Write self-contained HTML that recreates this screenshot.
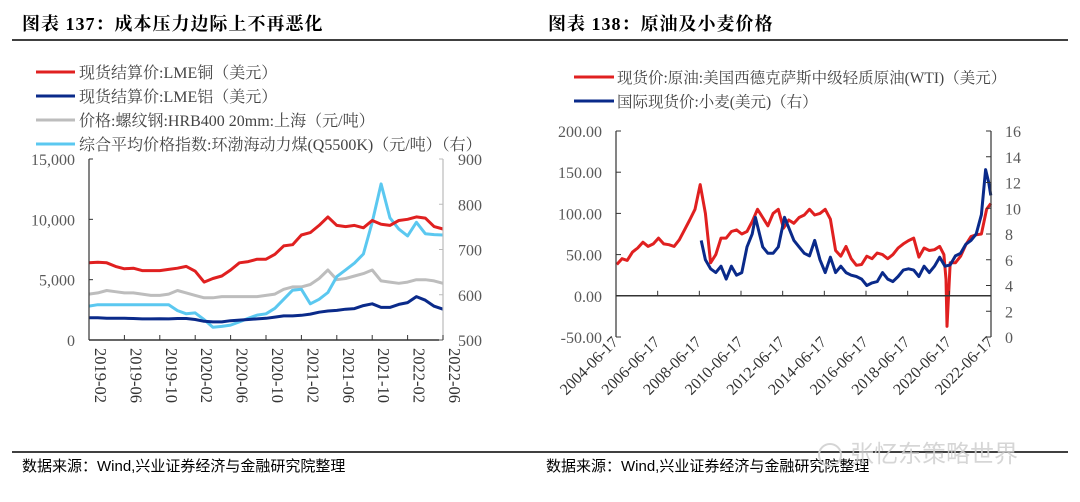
<!DOCTYPE html>
<html><head><meta charset="utf-8">
<style>
html,body{margin:0;padding:0;background:#fff;}
svg{display:block;font-family:"Liberation Serif","Noto Serif CJK SC","Noto Sans CJK SC",serif;}
</style></head>
<body>
<svg id="s" width="1080" height="502" viewBox="0 0 1080 502" xmlns="http://www.w3.org/2000/svg">
<g>
<text x="22" y="30" font-size="18" font-weight="bold" fill="#000" font-family="Liberation Serif, Noto Serif CJK SC, serif" letter-spacing="1">图表 137：成本压力边际上不再恶化</text>
<line x1="12" y1="40" x2="540" y2="40" stroke="#000" stroke-width="1.5"/>
</g>
<g>
<text x="548" y="30" font-size="18" font-weight="bold" fill="#000" font-family="Liberation Serif, Noto Serif CJK SC, serif" letter-spacing="1">图表 138：原油及小麦价格</text>
<line x1="540" y1="40" x2="1068" y2="40" stroke="#000" stroke-width="1.5"/>
</g>
<g font-size="16" fill="#444">
<g><line x1="36" y1="72" x2="75" y2="72" stroke="#e02020" stroke-width="3"/><text x="79" y="78">现货结算价:LME铜（美元）</text></g>
<g><line x1="36" y1="96" x2="75" y2="96" stroke="#0a2a8a" stroke-width="3"/><text x="79" y="102">现货结算价:LME铝（美元）</text></g>
<g><line x1="36" y1="120" x2="75" y2="120" stroke="#bdbdbd" stroke-width="3"/><text x="79" y="126">价格:螺纹钢:HRB400 20mm:上海（元/吨）</text></g>
<g><line x1="36" y1="144" x2="75" y2="144" stroke="#5bc8f0" stroke-width="3"/><text x="79" y="150">综合平均价格指数:环渤海动力煤(Q5500K)（元/吨）（右）</text></g>
</g>
<g font-size="15.5" fill="#444">
<g><line x1="574" y1="77" x2="614" y2="77" stroke="#e02020" stroke-width="3"/><text x="617" y="83">现货价:原油:美国西德克萨斯中级轻质原油(WTI)（美元）</text></g>
<g><line x1="574" y1="101" x2="614" y2="101" stroke="#0a2a8a" stroke-width="3"/><text x="617" y="107">国际现货价:小麦(美元)（右）</text></g>
</g>
<g id="c1"></g>
<g id="c2"></g>
<g>
<line x1="12" y1="452" x2="540" y2="452" stroke="#000" stroke-width="1.5"/>
<line x1="540" y1="452" x2="1068" y2="452" stroke="#000" stroke-width="1.5"/>
<text x="22" y="471" font-size="15" fill="#000" font-family="Liberation Sans, Noto Sans CJK SC, sans-serif">数据来源：Wind,兴业证券经济与金融研究院整理</text>
<text x="546" y="471" font-size="15" fill="#000" font-family="Liberation Sans, Noto Sans CJK SC, sans-serif">数据来源：Wind,兴业证券经济与金融研究院整理</text>
<text x="850" y="462" font-size="24" fill="#cfcfcf" opacity="0.85" font-family="Liberation Sans, Noto Sans CJK SC, sans-serif">张忆东策略世界</text>
<circle cx="830" cy="455" r="11" fill="none" stroke="#d5d5d5" stroke-width="2"/>
</g>
</svg>
<script>
// ---- Left chart data (monthly 2019-02 .. 2022-06) ----
const leftXTicks = ["2019-02","2019-06","2019-10","2020-02","2020-06","2020-10","2021-02","2021-06","2021-10","2022-02","2022-06"];
const leftYTicks = [0,5000,10000,15000];
const leftY2Ticks = [500,600,700,800,900];
const copper = [6400,6450,6400,6100,5900,5950,5750,5750,5750,5850,5950,6100,5700,4800,5100,5300,5800,6400,6500,6700,6700,7100,7800,7900,8700,8900,9500,10200,9500,9400,9500,9300,9900,9600,9500,9900,10000,10200,10100,9400,9200];
const aluminum = [1850,1850,1800,1800,1800,1780,1750,1750,1760,1750,1780,1780,1700,1550,1500,1500,1600,1650,1700,1750,1800,1900,2000,2000,2050,2150,2300,2400,2450,2550,2600,2850,3000,2700,2700,2950,3100,3600,3300,2800,2550];
const rebar = [3800,3900,4100,4000,3900,3900,3800,3700,3700,3800,4100,3900,3700,3500,3500,3600,3600,3600,3600,3600,3700,3800,4200,4400,4400,4600,5100,5800,5000,5100,5300,5500,5800,4900,4800,4700,4800,5000,5000,4900,4700];
const coal = [575,578,578,578,578,578,578,578,578,578,565,558,560,545,528,530,533,540,548,555,558,570,590,610,612,580,590,605,640,655,670,690,760,845,770,745,730,760,735,733,732];

// ---- Right chart data ----
const rightXTicks = ["2004-06-17","2006-06-17","2008-06-17","2010-06-17","2012-06-17","2014-06-17","2016-06-17","2018-06-17","2020-06-17","2022-06-17"];
const rightYTicks = [-50,0,50,100,150,200];
const rightY2Ticks = [0,2,4,6,8,10,12,14,16];
const wtiDates = [2004.5,2004.75,2005,2005.25,2005.5,2005.75,2006,2006.25,2006.5,2006.75,2007,2007.25,2007.5,2007.75,2008,2008.25,2008.5,2008.75,2009,2009.25,2009.5,2009.75,2010,2010.25,2010.5,2010.75,2011,2011.25,2011.5,2011.75,2012,2012.25,2012.5,2012.75,2013,2013.25,2013.5,2013.75,2014,2014.25,2014.5,2014.75,2015,2015.25,2015.5,2015.75,2016,2016.25,2016.5,2016.75,2017,2017.25,2017.5,2017.75,2018,2018.25,2018.5,2018.75,2019,2019.25,2019.5,2019.75,2020,2020.2,2020.3,2020.35,2020.5,2020.75,2021,2021.25,2021.5,2021.75,2022,2022.25,2022.45];
const wti = [38,45,43,53,58,65,60,63,70,63,62,60,68,80,92,105,135,100,40,50,70,70,78,80,75,78,90,105,95,85,100,105,82,92,88,95,98,105,98,100,105,93,55,48,60,45,37,38,48,45,52,50,45,50,58,63,67,70,47,58,55,56,60,50,20,-37,40,40,48,62,72,74,75,105,112];
const wheatDates = [2008.55,2008.75,2009,2009.25,2009.5,2009.75,2010,2010.25,2010.5,2010.75,2011,2011.15,2011.5,2011.75,2012,2012.25,2012.55,2012.75,2013,2013.25,2013.5,2013.75,2014,2014.25,2014.5,2014.75,2015,2015.25,2015.5,2015.75,2016,2016.25,2016.5,2016.75,2017,2017.25,2017.5,2017.75,2018,2018.25,2018.5,2018.75,2019,2019.25,2019.5,2019.75,2020,2020.25,2020.5,2020.75,2021,2021.25,2021.5,2021.75,2022,2022.2,2022.35,2022.45];
const wheat = [7.5,6,5.3,5,5.5,4.5,5.5,4.8,5,7,8,9.3,7,6.5,6.5,7,9.3,8.5,7.5,7,6.5,6.3,7.5,6,5,6.2,5,5.5,5,4.8,4.7,4.5,4,4.2,4.3,5,4.5,4.3,4.7,5.2,5.3,5.2,4.7,5.5,5,5.5,6.2,5.5,5.6,6.3,6.5,7.2,7.5,8,9.5,13,12,11];

const NS="http://www.w3.org/2000/svg";
function mk(parent,tag,attrs){const e=document.createElementNS(NS,tag);for(const k in attrs)e.setAttribute(k,attrs[k]);parent.appendChild(e);return e;}

const L={x0:89,x1:443,yTop:159,yBot:340};
const lx=i=>L.x0+(L.x1-L.x0)*i/(copper.length-1);
const ly=v=>L.yBot-(L.yBot-L.yTop)*v/15000;
const ly2=v=>L.yBot-(L.yBot-L.yTop)*(v-500)/400;
const c1=document.getElementById('c1');
function line(parent,pts,color,name){
  const p=mk(parent,'polyline',{points:pts.map(q=>q[0].toFixed(1)+','+q[1].toFixed(1)).join(' '),fill:'none',stroke:color,'stroke-width':3,'stroke-linejoin':'round'});
  
  
}
line(c1,rebar.map((v,i)=>[lx(i),ly(v)]),'#bdbdbd','rebar-line');
line(c1,coal.map((v,i)=>[lx(i),ly2(v)]),'#5bc8f0','coal-line');
line(c1,aluminum.map((v,i)=>[lx(i),ly(v)]),'#0a2a8a','aluminum-line');
line(c1,copper.map((v,i)=>[lx(i),ly(v)]),'#e02020','copper-line');
let a=mk(c1,'line',{x1:L.x0,y1:L.yTop,x2:L.x0,y2:L.yBot,stroke:'#333','stroke-width':1.2});


a=mk(c1,'line',{x1:L.x1,y1:L.yTop,x2:L.x1,y2:L.yBot,stroke:'#bbb','stroke-width':1.2});


a=mk(c1,'line',{x1:L.x0,y1:L.yBot,x2:L.x1,y2:L.yBot,stroke:'#333','stroke-width':1.5});


leftYTicks.forEach(v=>{
  mk(c1,'line',{x1:L.x0,y1:ly(v),x2:L.x0+4,y2:ly(v),stroke:'#333'});
  const t=mk(c1,'text',{x:L.x0-14,y:ly(v)+6,'text-anchor':'end','font-size':16,fill:'#595959'});
  t.textContent=v.toLocaleString('en-US');
  
  
});
leftY2Ticks.forEach(v=>{
  mk(c1,'line',{x1:L.x1-4,y1:ly2(v),x2:L.x1,y2:ly2(v),stroke:'#bbb'});
  const t=mk(c1,'text',{x:L.x1+15,y:ly2(v)+6,'font-size':16,fill:'#595959'});
  t.textContent=v;
  
  
});
leftXTicks.forEach((s,i)=>{
  const x=L.x0+(L.x1-L.x0)*i/(leftXTicks.length-1);
  mk(c1,'line',{x1:x,y1:L.yBot,x2:x,y2:L.yBot-5,stroke:'#333'});
  const t=mk(c1,'text',{x:x+6,y:L.yBot+8,'font-size':16.5,fill:'#333',transform:`rotate(90 ${x+6} ${L.yBot+8})`});
  t.textContent=s;
  
  
});

const R={x0:616,x1:991,yTop:131,yBot:337};
const rx=d=>R.x0+(R.x1-R.x0)*(d-2004.46)/18;
const ry=v=>R.yBot-(R.yBot-R.yTop)*(v+50)/250;
const ry2=v=>R.yBot-(R.yBot-R.yTop)*v/16;
const c2=document.getElementById('c2');
line(c2,wti.map((v,i)=>[rx(wtiDates[i]),ry(v)]),'#e02020','wti-line');
line(c2,wheat.map((v,i)=>[rx(wheatDates[i]),ry2(v)]),'#0a2a8a','wheat-line');
a=mk(c2,'line',{x1:R.x0,y1:R.yTop,x2:R.x0,y2:R.yBot,stroke:'#333','stroke-width':1.2});


a=mk(c2,'line',{x1:R.x1,y1:R.yTop,x2:R.x1,y2:R.yBot,stroke:'#333','stroke-width':1.2});


a=mk(c2,'line',{x1:R.x0,y1:ry(0),x2:R.x1,y2:ry(0),stroke:'#333','stroke-width':1.5});


rightYTicks.forEach(v=>{
  mk(c2,'line',{x1:R.x0,y1:ry(v),x2:R.x0+5,y2:ry(v),stroke:'#333'});
  const t=mk(c2,'text',{x:R.x0-14,y:ry(v)+6,'text-anchor':'end','font-size':16,fill:'#595959'});
  t.textContent=v.toFixed(2);
  
  
});
rightY2Ticks.forEach(v=>{
  mk(c2,'line',{x1:R.x1-5,y1:ry2(v),x2:R.x1,y2:ry2(v),stroke:'#333'});
  const t=mk(c2,'text',{x:R.x1+14,y:ry2(v)+6,'font-size':16,fill:'#595959'});
  t.textContent=v;
  
  
});
rightXTicks.forEach((s,i)=>{
  const x=R.x0+(R.x1-R.x0)*i/(rightXTicks.length-1);
  mk(c2,'line',{x1:x,y1:ry(0),x2:x,y2:ry(0)-5,stroke:'#333'});
  const t=mk(c2,'text',{x:x+3,y:R.yBot+6,'text-anchor':'end','font-size':16,fill:'#333',transform:`rotate(-45 ${x+3} ${R.yBot+6})`});
  t.textContent=s;
  
  
});
</script>
</body></html>
